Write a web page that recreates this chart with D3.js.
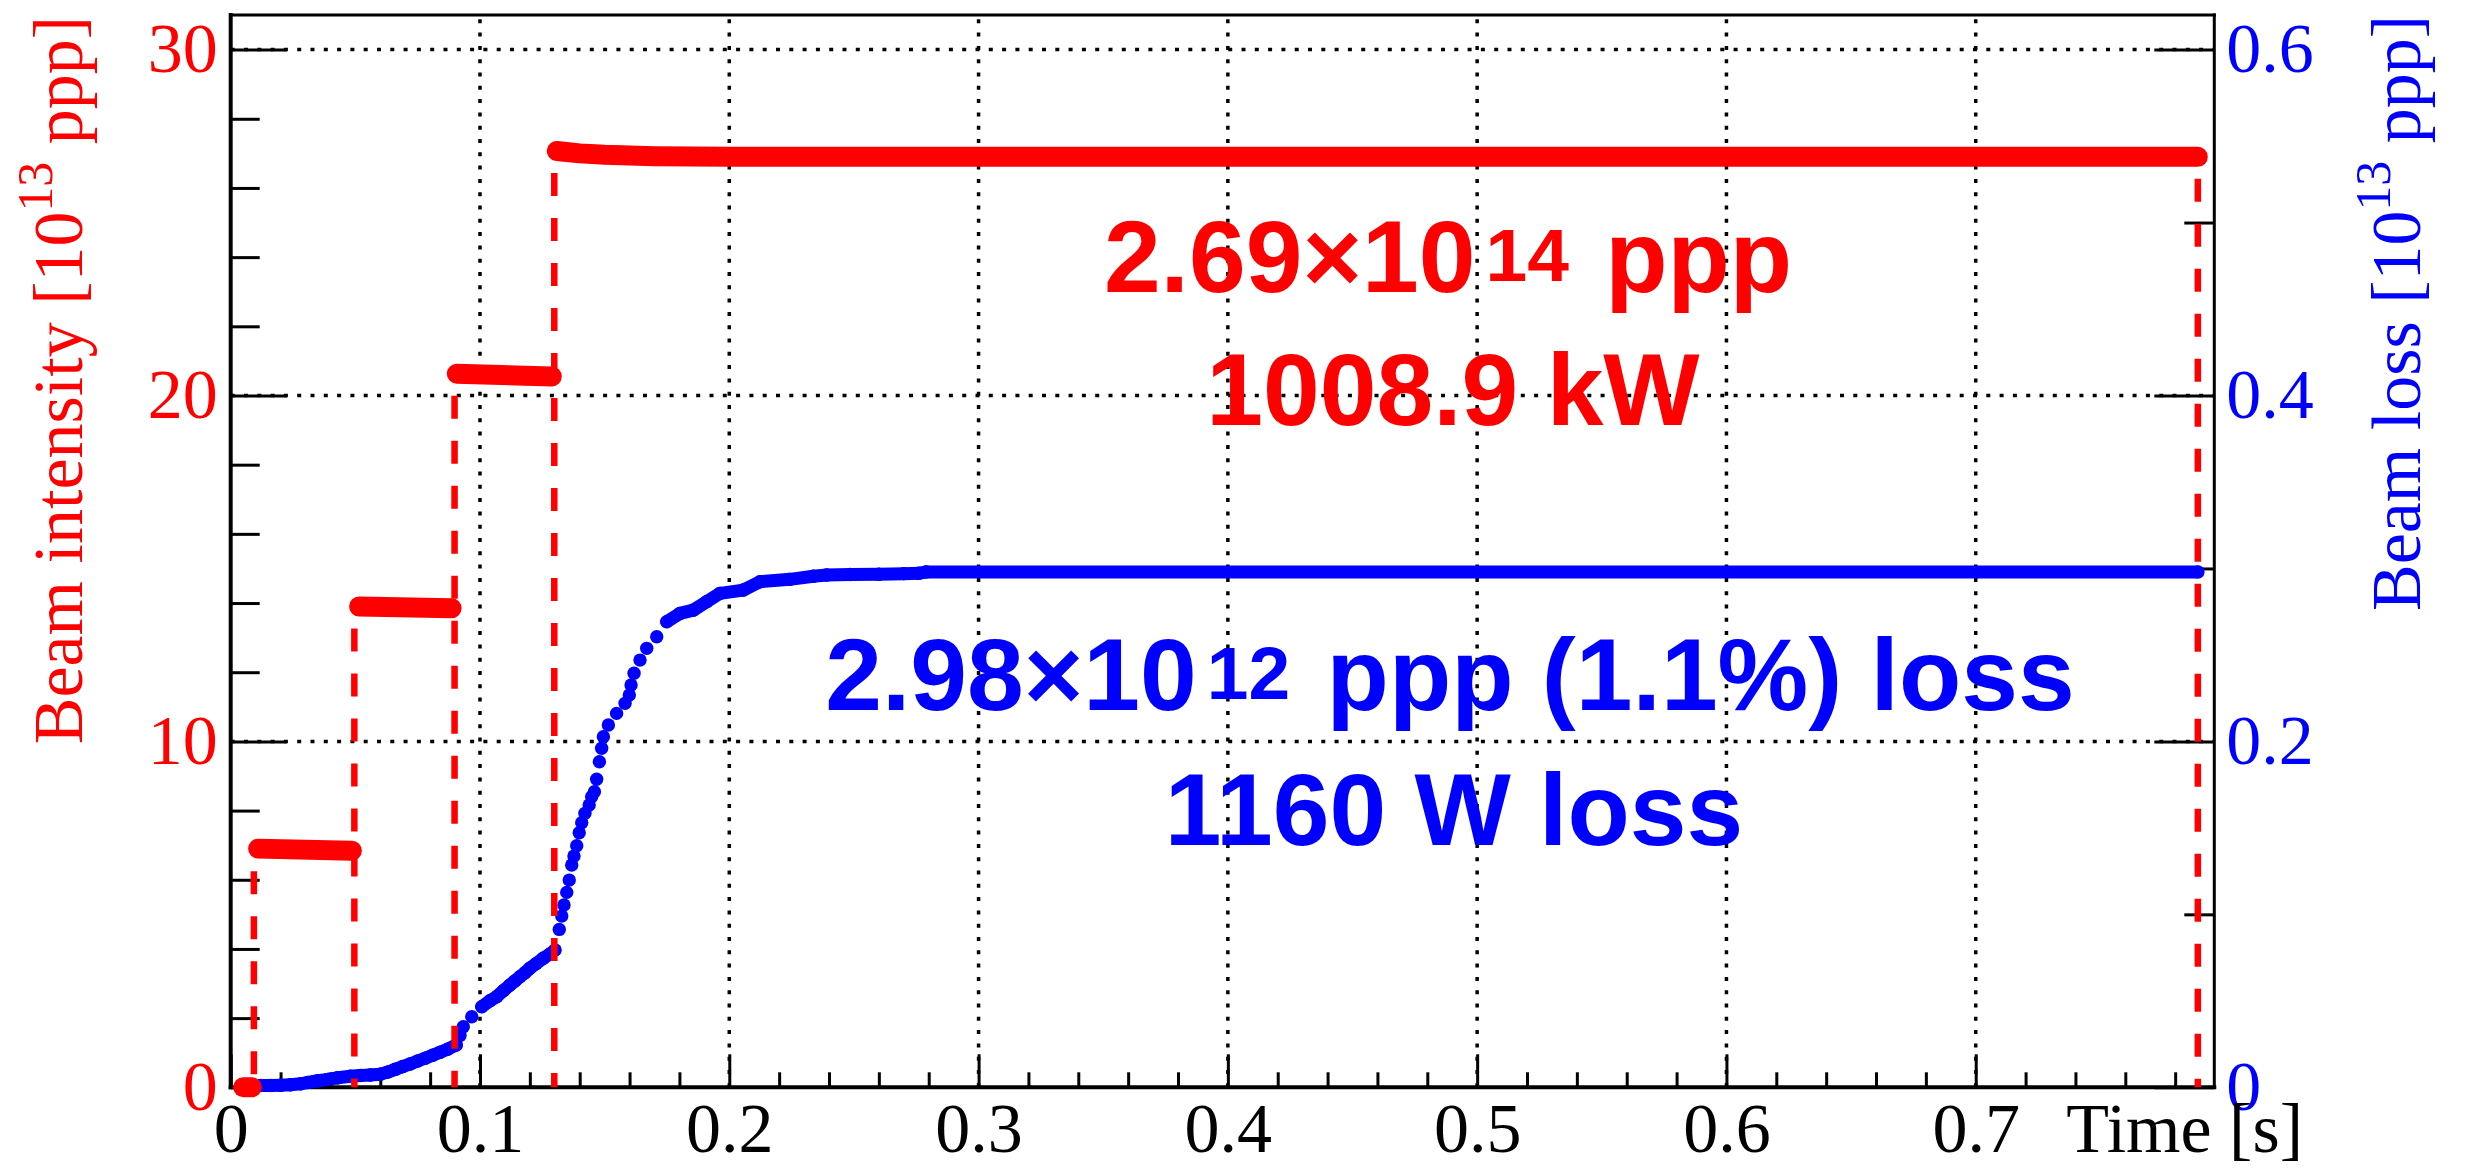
<!DOCTYPE html>
<html>
<head>
<meta charset="utf-8">
<script src="https://cdn.jsdelivr.net/npm/d3@7/dist/d3.min.js"></script>
<style>
  html, body { margin: 0; padding: 0; background: #fff; }
  svg { display: block; }
</style>
</head>
<body>
<svg id="chart" width="2468" height="1168"></svg>
<script>
// ---- data ----
// Beam intensity per injection batch [1e13 ppp]
const intensityTime  = [0.0050, 0.0085,  0.0110, 0.0486,  0.0515, 0.0886,  0.0907, 0.1288,  0.1308, 0.1400, 0.1500, 0.1700, 0.2000, 0.7891];
const intensityValue = [0.0,    0.0,     6.90,   6.84,    13.90,  13.85,   20.63,  20.55,   27.07,  27.00,  26.96,  26.92,  26.90,  26.90];
const intensityBatch = [0,      0,       1,      1,       2,      2,       3,      3,       4,      4,      4,      4,      4,      4];

// Injection / extraction timing markers
const markerTime  = [0.0093, 0.0496, 0.0898, 0.1298, 0.7891];
const markerLevel = [6.88, 13.90, 20.63, 27.07, 26.90];

// Integrated beam loss [1e13 ppp]
const lossTime = [
  0.0120, 0.0160, 0.0200, 0.0240, 0.0280, 0.0310, 0.0350, 0.0390, 0.0430, 0.0480,
  0.0520, 0.0560, 0.0600, 0.0630, 0.0660, 0.0690, 0.0720, 0.0750, 0.0780, 0.0810,
  0.0840, 0.0870, 0.0905, 0.0920, 0.0933, 0.0967, 0.1007, 0.1040, 0.1067, 0.1095,
  0.1120, 0.1140, 0.1160, 0.1180, 0.1200, 0.1225, 0.1254, 0.1280, 0.1301, 0.1318,
  0.1328, 0.1337, 0.1348, 0.1358, 0.1368, 0.1377, 0.1388, 0.1398, 0.1408, 0.1421,
  0.1438, 0.1448, 0.1459, 0.1468, 0.1479, 0.1488, 0.1495, 0.1515, 0.1548, 0.1582,
  0.1599, 0.1606, 0.1618, 0.1642, 0.1669, 0.1709, 0.1749, 0.1802, 0.1856, 0.1909,
  0.1963, 0.2056, 0.2123, 0.2243, 0.2337, 0.2391, 0.2484, 0.2600, 0.2700, 0.2760,
  0.2790, 0.7891
];
const lossValue = [
  0.0010, 0.0010, 0.0012, 0.0015, 0.0020, 0.0028, 0.0038, 0.0046, 0.0055, 0.0064,
  0.0068, 0.0071, 0.0076, 0.0088, 0.0104, 0.0120, 0.0135, 0.0152, 0.0168, 0.0185,
  0.0203, 0.0220, 0.0245, 0.0300, 0.0350, 0.0408, 0.0466, 0.0500, 0.0524, 0.0560,
  0.0591, 0.0615, 0.0639, 0.0662, 0.0688, 0.0715, 0.0746, 0.0770, 0.0794, 0.0913,
  0.0990, 0.1054, 0.1127, 0.1198, 0.1285, 0.1337, 0.1397, 0.1472, 0.1530, 0.1584,
  0.1632, 0.1680, 0.1709, 0.1781, 0.1882, 0.1960, 0.2027, 0.2095, 0.2162, 0.2220,
  0.2268, 0.2326, 0.2394, 0.2470, 0.2538, 0.2605, 0.2692, 0.2740, 0.2759, 0.2807,
  0.2856, 0.2875, 0.2923, 0.2937, 0.2955, 0.2962, 0.2965, 0.2967, 0.2970, 0.2972,
  0.2980, 0.2980
];

// Axis ticks
const timeMajorTicks = [0, 0.1, 0.2, 0.3, 0.4, 0.5, 0.6, 0.7];
const timeMinorTicks = [0.02, 0.04, 0.06, 0.08, 0.12, 0.14, 0.16, 0.18, 0.22, 0.24, 0.26, 0.28,
  0.32, 0.34, 0.36, 0.38, 0.42, 0.44, 0.46, 0.48, 0.52, 0.54, 0.56, 0.58, 0.62, 0.64, 0.66, 0.68,
  0.72, 0.74, 0.76, 0.78];
const intensityMajorTicks = [0, 10, 20, 30];
const intensityMinorTicks = [2, 4, 6, 8, 12, 14, 16, 18, 22, 24, 26, 28];
const lossMajorTicks = [0, 0.2, 0.4, 0.6];
const lossMinorTicks = [0.1, 0.3, 0.5];

// ---- layout ----
const frameLeft = 230.7, frameRight = 2214.3, frameTop = 15, frameBottom = 1087.3;
const RED = "#ff0000", BLUE = "#0000ff";
const SERIF = "'Liberation Serif', 'Times New Roman', Times, serif";
const SANS = "'Liberation Sans', Arial, Helvetica, sans-serif";

const svg = d3.select("#chart");

const x = d3.scaleLinear().domain([0, 0.7957]).range([frameLeft, frameRight]);
const yL = d3.scaleLinear().domain([0, 31]).range([frameBottom, frameTop]);
const yR = d3.scaleLinear().domain([0, 0.62]).range([frameBottom, frameTop]);

// ---- grid ----
const grid = svg.append("g").attr("stroke", "#000").attr("stroke-width", 3.5)
  .attr("stroke-dasharray", "4 9.3");
grid.selectAll("line.v").data(timeMajorTicks.filter(d => d > 0)).join("line").attr("class", "v")
  .attr("x1", d => x(d)).attr("x2", d => x(d)).attr("y1", frameBottom).attr("y2", frameTop);
grid.selectAll("line.h").data(intensityMajorTicks.filter(d => d > 0)).join("line").attr("class", "h")
  .attr("x1", frameLeft).attr("x2", frameRight).attr("y1", d => yL(d)).attr("y2", d => yL(d));

// ---- axes ----
function styleAxis(g, color, size) {
  g.select(".domain").remove();
  g.selectAll(".tick line").attr("stroke", "#000").attr("stroke-width", 3);
  g.selectAll(".tick text").attr("fill", color).attr("font-family", SERIF).attr("font-size", size);
}

const fmtTime = d => d === 0 ? "0" : d3.format(".1f")(d);
svg.append("g").attr("transform", `translate(0,${frameBottom})`)
  .call(d3.axisBottom(x).tickValues(timeMajorTicks).tickSize(-33).tickPadding(15).tickFormat(fmtTime))
  .call(g => styleAxis(g, "#000", 70));
svg.append("g").attr("transform", `translate(0,${frameBottom})`)
  .call(d3.axisBottom(x).tickValues(timeMinorTicks).tickSize(-15).tickFormat(""))
  .call(g => styleAxis(g, "#000", 70));

svg.append("g").attr("transform", `translate(${frameLeft},0)`)
  .call(d3.axisLeft(yL).tickValues(intensityMajorTicks).tickSize(-56).tickPadding(13).tickFormat(d3.format("d")))
  .call(g => styleAxis(g, RED, 70));
svg.append("g").attr("transform", `translate(${frameLeft},0)`)
  .call(d3.axisLeft(yL).tickValues(intensityMinorTicks).tickSize(-29).tickFormat(""))
  .call(g => styleAxis(g, RED, 70));

const fmtLoss = d => d === 0 ? "0" : d3.format(".1f")(d);
svg.append("g").attr("transform", `translate(${frameRight},0)`)
  .call(d3.axisRight(yR).tickValues(lossMajorTicks).tickSize(-60).tickPadding(12).tickFormat(fmtLoss))
  .call(g => styleAxis(g, BLUE, 70));
svg.append("g").attr("transform", `translate(${frameRight},0)`)
  .call(d3.axisRight(yR).tickValues(lossMinorTicks).tickSize(-30).tickFormat(""))
  .call(g => styleAxis(g, BLUE, 70));

// frame
const frame = svg.append("g").attr("stroke", "#000").attr("stroke-linecap", "square");
frame.append("line").attr("x1", frameLeft).attr("x2", frameRight).attr("y1", frameTop).attr("y2", frameTop).attr("stroke-width", 3);
frame.append("line").attr("x1", frameRight).attr("x2", frameRight).attr("y1", frameTop).attr("y2", frameBottom).attr("stroke-width", 3);
frame.append("line").attr("x1", frameLeft).attr("x2", frameLeft).attr("y1", frameTop).attr("y2", frameBottom).attr("stroke-width", 4);
frame.append("line").attr("x1", frameLeft).attr("x2", frameRight).attr("y1", frameBottom).attr("y2", frameBottom).attr("stroke-width", 4);

// ---- beam loss (blue markers) ----
const lossPts = lossTime.map((t, i) => ({ px: x(t), py: yR(lossValue[i]) }));
const lossLinks = [];
for (let i = 1; i < lossPts.length; i++) {
  const a = lossPts[i - 1], b = lossPts[i];
  if (Math.abs(b.py - a.py) <= Math.abs(b.px - a.px)) lossLinks.push([a, b]);
}
const lossG = svg.append("g");
lossG.selectAll("line").data(lossLinks).join("line")
  .attr("x1", d => d[0].px).attr("y1", d => d[0].py)
  .attr("x2", d => d[1].px).attr("y2", d => d[1].py)
  .attr("stroke", BLUE).attr("stroke-width", 13).attr("stroke-linecap", "round");
lossG.selectAll("circle").data(lossPts).join("circle")
  .attr("cx", d => d.px).attr("cy", d => d.py).attr("r", 6.7).attr("fill", BLUE);

// ---- timing markers (red dashed) ----
svg.append("g").selectAll("line").data(markerTime).join("line")
  .attr("x1", d => x(d)).attr("x2", d => x(d))
  .attr("y1", (d, i) => yL(markerLevel[i])).attr("y2", yL(0))
  .attr("stroke", RED).attr("stroke-width", 6.5)
  .attr("stroke-dasharray", "23 22").attr("stroke-dashoffset", 23);

// ---- beam intensity (thick red) ----
const batches = d3.groups(intensityTime.map((t, i) => ({ t, v: intensityValue[i], b: intensityBatch[i] })), d => d.b);
const redLine = d3.line().x(d => x(d.t)).y(d => yL(d.v));
svg.append("g").selectAll("path").data(batches).join("path")
  .attr("d", d => redLine(d[1]))
  .attr("fill", "none").attr("stroke", RED).attr("stroke-width", 20)
  .attr("stroke-linecap", "round").attr("stroke-linejoin", "round");

// ---- axis titles ----
function titleWithExp(g, parts, color, size) {
  const t = g.append("text").attr("fill", color).attr("font-family", SERIF).attr("font-size", size)
    .attr("text-anchor", "end");
  t.append("tspan").text(parts[0]);
  t.append("tspan").attr("font-size", size * 0.71).attr("dy", -30).text(parts[1]);
  t.append("tspan").attr("dy", 30).text(parts[2]);
  return t;
}
titleWithExp(svg.append("g").attr("transform", "translate(82,16) rotate(-90)"),
  ["Beam intensity [10", "13", " ppp]"], RED, 70);
titleWithExp(svg.append("g").attr("transform", "translate(2420,15) rotate(-90)"),
  ["Beam loss [10", "13", " ppp]"], BLUE, 70);
svg.append("text").attr("x", 2303).attr("y", 1152).attr("text-anchor", "end")
  .attr("font-family", SERIF).attr("font-size", 70).attr("fill", "#000").text("Time [s]");

// ---- annotations ----
function annotate(cx, baseline, color, parts) {
  const t = svg.append("text").attr("x", cx).attr("y", baseline).attr("text-anchor", "middle")
    .attr("font-family", SANS).attr("font-weight", "bold").attr("font-size", 102).attr("fill", color);
  t.append("tspan").text(parts[0]);
  if (parts.length > 1) {
    t.append("tspan").attr("font-size", 75).attr("dx", 10).attr("dy", -11).text(parts[1]);
    t.append("tspan").attr("dx", 8).attr("dy", 11).text(parts[2]);
  }
}
annotate(1448, 291.7, RED, ["2.69×10", "14", " ppp"]);
annotate(1453, 425, RED, ["1008.9 kW"]);
annotate(1450, 710, BLUE, ["2.98×10", "12", " ppp (1.1%) loss"]);
annotate(1454, 845, BLUE, ["1160 W loss"]);
</script>
</body>
</html>
